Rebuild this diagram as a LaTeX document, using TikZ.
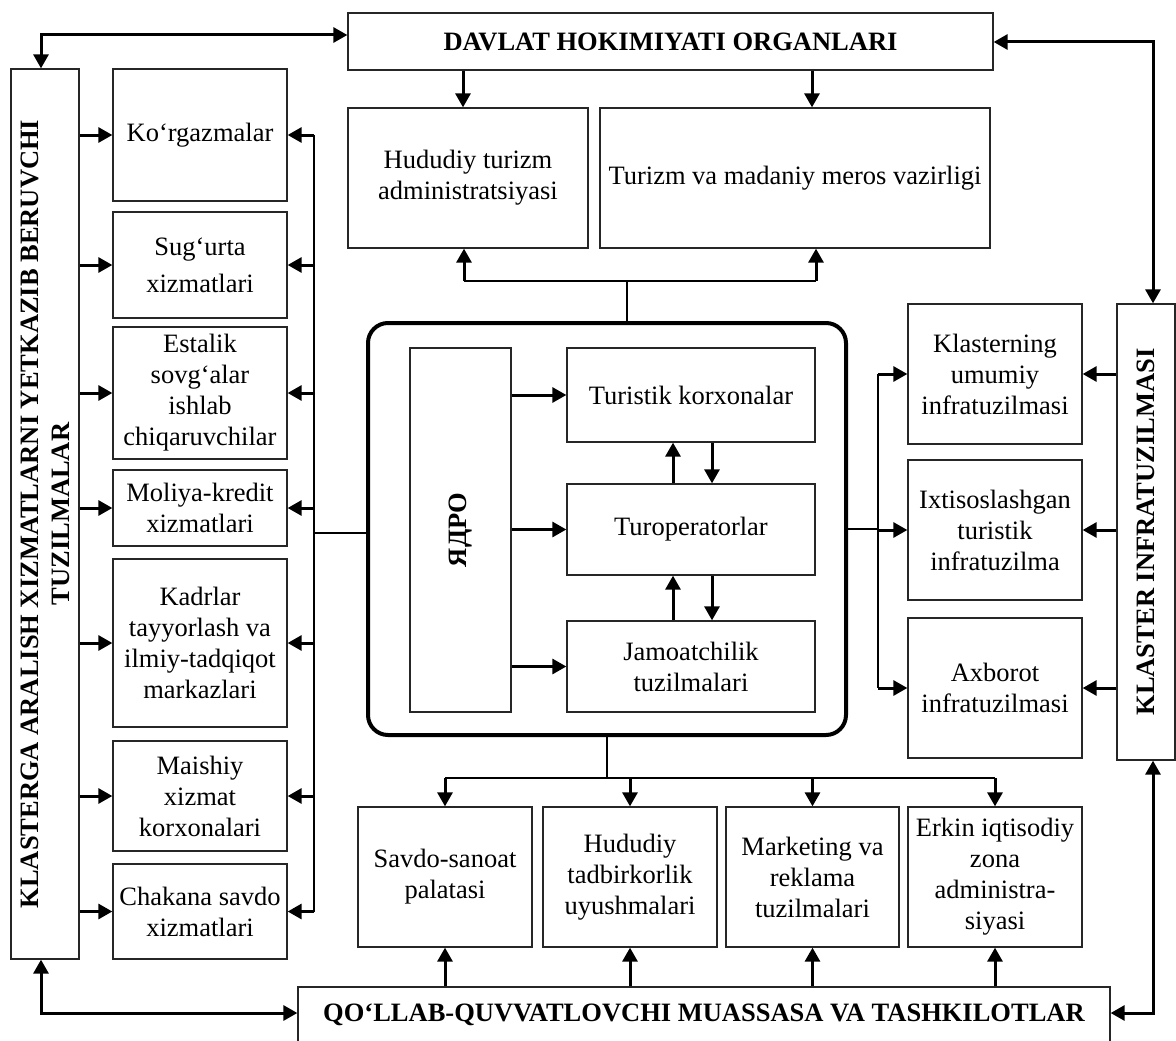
\documentclass[tikz,border=0pt]{standalone}
\usepackage{fontspec}
\setmainfont{Liberation Serif}
\usetikzlibrary{arrows.meta}
\tikzset{
  box/.style={draw=black!85, line width=1.3pt, align=center, inner sep=0pt, font=\fontsize{26.5}{31}\selectfont},
  hbox/.style={box, font=\fontsize{26.5}{31}\selectfont\bfseries},
  wh/.style 2 args={minimum width=#1pt, minimum height=#2pt},
  vtext/.style={rotate=90, align=center, inner sep=0pt, font=\fontsize{26.5}{31}\selectfont\bfseries},
  arr/.style={draw, line width=3pt, -{Triangle[length=14pt,width=15pt]}},
  darr/.style={draw, line width=3pt, {Triangle[length=14pt,width=15pt]}-{Triangle[length=14pt,width=15pt]}},
  ln/.style={draw, line width=1.3pt}
}
\begin{document}
\begin{tikzpicture}[x=1pt, y=-1pt]
\useasboundingbox (0,0) rectangle (1176,1041);
\node[hbox, wh={645}{57}] (davlat) at (670.5,41.5) {DAVLAT HOKIMIYATI ORGANLARI};
\node[box, wh={240}{140}] (hud) at (468,178) {Hududiy turizm\\administratsiyasi};
\node[box, wh={390}{140}] (tmv) at (795,178) {Turizm va madaniy meros vazirligi};
\node[box, wh={68}{890}] (klasl) at (45,514) {};
\node[vtext] (klasltxt) at (klasl.center) {KLASTERGA ARALISH XIZMATLARNI YETKAZIB BERUVCHI\\TUZILMALAR};
\node[box, wh={174}{132}] (kor) at (200,135) {Ko‘rgazmalar};
\node[box, wh={174}{106}] (sug) at (200,265) {Sug‘urta\\[6pt]xizmatlari};
\node[box, wh={174}{132}] (est) at (200,393) {Estalik\\sovg‘alar\\ishlab\\chiqaruvchilar};
\node[box, wh={174}{76}] (mol) at (200,508) {Moliya-kredit\\xizmatlari};
\node[box, wh={174}{168}] (kad) at (200,643) {Kadrlar\\tayyorlash va\\ilmiy-tadqiqot\\markazlari};
\node[box, wh={174}{110}] (mai) at (200,796) {Maishiy\\xizmat\\korxonalari};
\node[box, wh={174}{95}] (chak) at (200,911.5) {Chakana savdo\\xizmatlari};
\node[draw, line width=4pt, rounded corners=20pt, wh={478}{412}] (core) at (607,529) {};
\node[box, wh={101}{364}] (yadro) at (460.5,530) {};
\node[vtext] (yadrotxt) at (yadro.center) {ЯДРО};
\node[box, wh={248}{94}] (turk) at (691,395) {Turistik korxonalar};
\node[box, wh={248}{91}] (turop) at (691,529.5) {Turoperatorlar};
\node[box, wh={248}{91}] (jam) at (691,666.5) {Jamoatchilik\\tuzilmalari};
\node[box, wh={174}{140}] (kum) at (995,374) {Klasterning\\umumiy\\infratuzilmasi};
\node[box, wh={174}{140}] (ixt) at (995,530) {Ixtisoslashgan\\turistik\\infratuzilma};
\node[box, wh={174}{140}] (axb) at (995,688) {Axborot\\infratuzilmasi};
\node[box, wh={58}{456}] (klasr) at (1146,532) {};
\node[vtext] (klasrtxt) at (klasr.center) {KLASTER INFRATUZILMASI};
\node[box, wh={174}{140}] (sav) at (445,877) {Savdo-sanoat\\palatasi};
\node[box, wh={174}{140}] (hte) at (630,877) {Hududiy\\tadbirkorlik\\uyushmalari};
\node[box, wh={173}{140}] (mar) at (812.5,877) {Marketing va\\reklama\\tuzilmalari};
\node[box, wh={174}{140}] (erk) at (995,877) {Erkin iqtisodiy\\zona\\administra-\\siyasi};
\node[hbox, wh={812}{56}] (qol) at (704,1015) {QO‘LLAB-QUVVATLOVCHI MUASSASA VA TASHKILOTLAR};
\coordinate (tl) at (41,35);
\coordinate (tr) at (1153,42);
\coordinate (bl) at (41,1013);
\coordinate (br) at (1153,1013);
\coordinate (d1) at (463,0);
\coordinate (d2) at (812,0);
\coordinate (ubus) at (627,281);
\coordinate (u1) at (464,281);
\coordinate (u2) at (816,281);
\coordinate (c1) at (673,0);
\coordinate (c2) at (712,0);
\coordinate (lbus) at (314,533);
\coordinate (rbus) at (878,529);
\coordinate (bbus) at (607,778);
\path[darr] (tl |- klasl.north) -- (tl) -- (tl -| davlat.west);
\path[darr] (davlat.east |- tr) -- (tr) -- (tr |- klasr.north);
\path[darr] (bl |- klasl.south) -- (bl) -- (bl -| qol.west);
\path[darr] (br |- klasr.south) -- (br) -- (br -| qol.east);
\path[arr] (d1 |- davlat.south) -- (d1 |- hud.north);
\path[arr] (d2 |- davlat.south) -- (d2 |- tmv.north);
\path[ln] (ubus |- core.north) -- (ubus);
\path[ln] (u1) -- (u2);
\path[arr] (u1) -- (u1 |- hud.south);
\path[arr] (u2) -- (u2 |- tmv.south);
\path[arr] (klasl.east |- kor.west) -- (kor.west);
\path[arr] (klasl.east |- sug.west) -- (sug.west);
\path[arr] (klasl.east |- est.west) -- (est.west);
\path[arr] (klasl.east |- mol.west) -- (mol.west);
\path[arr] (klasl.east |- kad.west) -- (kad.west);
\path[arr] (klasl.east |- mai.west) -- (mai.west);
\path[arr] (klasl.east |- chak.west) -- (chak.west);
\path[ln] (lbus |- kor.east) -- (lbus |- chak.east);
\path[ln] (lbus) -- (lbus -| core.west);
\path[arr] (lbus |- kor.east) -- (kor.east);
\path[arr] (lbus |- sug.east) -- (sug.east);
\path[arr] (lbus |- est.east) -- (est.east);
\path[arr] (lbus |- mol.east) -- (mol.east);
\path[arr] (lbus |- kad.east) -- (kad.east);
\path[arr] (lbus |- mai.east) -- (mai.east);
\path[arr] (lbus |- chak.east) -- (chak.east);
\path[arr] (yadro.east |- turk.west) -- (turk.west);
\path[arr] (yadro.east |- turop.west) -- (turop.west);
\path[arr] (yadro.east |- jam.west) -- (jam.west);
\path[arr] (c1 |- turop.north) -- (c1 |- turk.south);
\path[arr] (c2 |- turk.south) -- (c2 |- turop.north);
\path[arr] (c1 |- jam.north) -- (c1 |- turop.south);
\path[arr] (c2 |- turop.south) -- (c2 |- jam.north);
\path[ln] (core.east |- rbus) -- (rbus);
\path[ln] (rbus |- kum.west) -- (rbus |- axb.west);
\path[arr] (rbus |- kum.west) -- (kum.west);
\path[arr] (rbus |- ixt.west) -- (ixt.west);
\path[arr] (rbus |- axb.west) -- (axb.west);
\path[arr] (klasr.west |- kum.east) -- (kum.east);
\path[arr] (klasr.west |- ixt.east) -- (ixt.east);
\path[arr] (klasr.west |- axb.east) -- (axb.east);
\path[ln] (core.south -| bbus) -- (bbus);
\path[ln] (bbus -| sav.north) -- (bbus -| erk.north);
\path[arr] (bbus -| sav.north) -- (sav.north);
\path[arr] (bbus -| hte.north) -- (hte.north);
\path[arr] (bbus -| mar.north) -- (mar.north);
\path[arr] (bbus -| erk.north) -- (erk.north);
\path[arr] (qol.north -| sav.south) -- (sav.south);
\path[arr] (qol.north -| hte.south) -- (hte.south);
\path[arr] (qol.north -| mar.south) -- (mar.south);
\path[arr] (qol.north -| erk.south) -- (erk.south);
\end{tikzpicture}
\end{document}
